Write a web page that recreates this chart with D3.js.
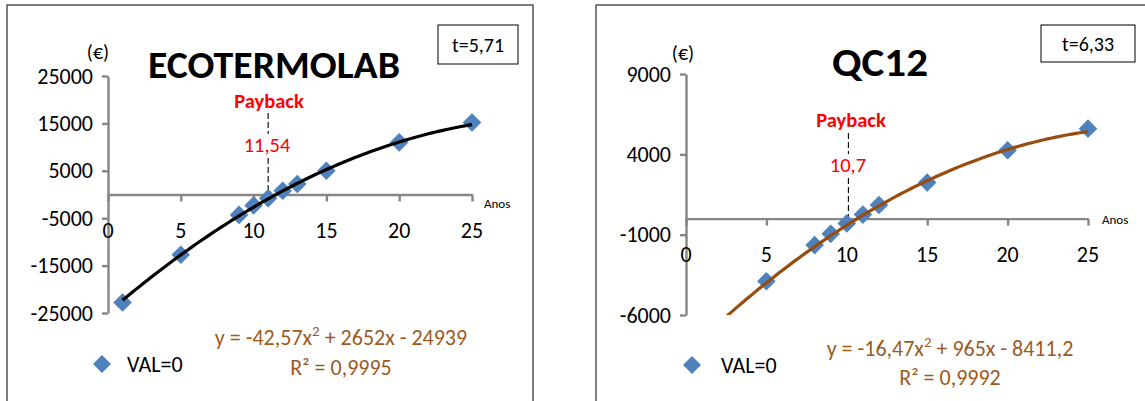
<!DOCTYPE html>
<html><head><meta charset="utf-8">
<script src="https://cdn.jsdelivr.net/npm/d3@7"></script>
<style>
html,body{margin:0;padding:0;background:#fff;}
svg{display:block;font-family:Calibri,Carlito,Lato,"Open Sans",sans-serif;}
</style></head><body>
<svg id="chart" width="1145" height="401"></svg>
<script>
// ---- data ----
const ecoYears  = [1, 5, 9, 10, 11, 12, 13, 15, 20, 25];
const ecoValues = [-22800, -12700, -4300, -2300, -800, 800, 2200, 5000, 11000, 15200];
const qcYears   = [5, 8, 9, 10, 11, 12, 15, 20, 25];
const qcValues  = [-3900, -1650, -950, -300, 250, 850, 2250, 4250, 5600];
const xTickValues = [0, 5, 10, 15, 20, 25];
const ecoYTicks = [-25000, -15000, -5000, 5000, 15000, 25000];
const qcYTicks  = [-6000, -1000, 4000, 9000];
const ecoTrendCoef = [-42.57, 2652, -24939];
const qcTrendCoef  = [-16.47, 965, -8411.2];
const titles = ["ECOTERMOLAB", "QC12"];
const tLabels = ["t=5,71", "t=6,33"];
const paybackValues = ["11,54", "10,7"];
const paybackLineX = [11, 10.1];
const eqLabels = [["y = -42,57x", "2", " + 2652x - 24939"], ["y = -16,47x", "2", " + 965x - 8411,2"]];
const r2Labels = ["R² = 0,9995", "R² = 0,9992"];
const legendLabel = "VAL=0";
const xAxisTitle = "Anos";
const yUnit = "(€)";
const paybackTitle = "Payback";
const trendRange = [1, 25];

const svg = d3.select("#chart");
const markerColor = "#4F81BD";
const axisColor = "#868686";
const eqColor = "#9C5A1E";
const FS = 22;

const diamond = {draw(ctx, size){const r=Math.sqrt(size/2);ctx.moveTo(0,-r);ctx.lineTo(r,0);ctx.lineTo(0,r);ctx.lineTo(-r,0);ctx.closePath();}};
const symPath = d3.symbol().type(diamond).size(2*9.3*9.3);
const legPath = d3.symbol().type(diamond).size(2*9*9);

function panel(i, years, values, yTicks, yDomain, coef, L){
  const g = svg.append("g");
  g.append("rect").attr("x",L.frame[0]).attr("y",L.frame[1]).attr("width",L.frame[2]).attr("height",L.frame[3])
    .attr("fill","none").attr("stroke","#3a3a3a").attr("stroke-width",1.3);
  const x = d3.scaleLinear().domain([0,25]).range(L.xRange);
  const y = d3.scaleLinear().domain(yDomain).range(L.yRange);

  const ya = g.append("g").attr("transform",`translate(${x(0)},0)`)
    .call(d3.axisLeft(y).tickValues(yTicks).tickSize(6).tickSizeOuter(0).tickPadding(9).tickFormat(d=>String(d)));
  ya.select(".domain").attr("stroke",axisColor).attr("stroke-width",2.4);
  ya.selectAll(".tick line").attr("stroke",axisColor).attr("stroke-width",2.4);
  ya.selectAll(".tick text").attr("fill","#000").attr("font-size",FS).attr("font-family","Calibri,Carlito,Lato,sans-serif");

  const xa = g.append("g").attr("transform",`translate(0,${y(0)})`)
    .call(d3.axisBottom(x).tickValues(xTickValues).tickSize(7).tickSizeOuter(0).tickFormat(""));
  xa.select(".domain").attr("stroke",axisColor).attr("stroke-width",2.4);
  xa.selectAll(".tick line").attr("stroke",axisColor).attr("stroke-width",2.4);
  g.selectAll(".xlab").data(xTickValues).join("text").attr("class","xlab")
    .attr("x",d=>x(d)).attr("y",L.xLabelY).attr("dy","0.35em").attr("text-anchor","middle")
    .attr("font-size",FS).text(d=>d);
  g.append("text").attr("x",x(25)+L.anos[0]).attr("y",y(0)+L.anos[1]).attr("font-size",13).text(xAxisTitle);

  g.append("text").attr("x",L.euro[0]).attr("y",L.euro[1]).attr("text-anchor","middle").attr("font-size",20).text(yUnit);

  g.append("text").attr("x",L.title[0]).attr("y",L.title[1]).attr("text-anchor","middle")
    .attr("font-weight","bold").attr("font-size",L.title[2]).attr("textLength",L.title[3]).attr("lengthAdjust","spacingAndGlyphs")
    .text(titles[i]);

  g.append("rect").attr("x",L.tbox[0]).attr("y",L.tbox[1]).attr("width",L.tbox[2]).attr("height",L.tbox[3])
    .attr("fill","#fff").attr("stroke","#000").attr("stroke-width",1);
  g.append("text").attr("x",L.tbox[0]+L.tbox[2]/2).attr("y",L.tbox[1]+L.tbox[3]/2).attr("dy","0.35em")
    .attr("text-anchor","middle").attr("font-size",20).text(tLabels[i]);

  const px = x(paybackLineX[i]);
  g.append("line").attr("x1",px).attr("x2",px).attr("y1",L.dashTop).attr("y2",y(0))
    .attr("stroke","#000").attr("stroke-width",1.1).attr("stroke-dasharray","6,3");
  g.append("rect").attr("x",px-25).attr("y",L.pbVal[1]-11).attr("width",50).attr("height",22).attr("fill","#fff");
  g.append("text").attr("x",L.pbTitle[0]).attr("y",L.pbTitle[1]).attr("dy","0.35em").attr("text-anchor","middle")
    .attr("fill","#FF0000").attr("font-weight","bold").attr("font-size",20.5).text(paybackTitle);
  g.append("text").attr("x",L.pbVal[0]).attr("y",L.pbVal[1]).attr("dy","0.35em").attr("text-anchor","middle")
    .attr("fill","#FF0000").attr("font-size",20.5).text(paybackValues[i]);

  const clipId = "clip"+i;
  svg.append("clipPath").attr("id",clipId).append("rect")
    .attr("x",L.xRange[0]).attr("y",L.yRange[1]).attr("width",L.xRange[1]-L.xRange[0]+10).attr("height",L.yRange[0]-L.yRange[1]);
  const xs = d3.range(trendRange[0], trendRange[1]+0.001, 0.25);
  const poly = t => coef[0]*t*t + coef[1]*t + coef[2];
  const ptsData = years.map((d,k)=>({x:d,y:values[k]}));
  g.append("g").selectAll("path").data(ptsData).join("path")
    .attr("d",symPath).attr("fill",markerColor)
    .attr("transform",d=>`translate(${x(d.x)},${y(d.y)})`);
  g.append("path").attr("clip-path",`url(#${clipId})`)
    .attr("d", d3.line().x(t=>x(t)).y(t=>y(poly(t)))(xs))
    .attr("fill","none").attr("stroke",L.trendColor).attr("stroke-width",3.2);

  g.append("path").attr("d",legPath).attr("fill",markerColor).attr("transform",`translate(${L.legend[0]},${L.legend[1]})`);
  g.append("text").attr("x",L.legend[2]).attr("y",L.legend[1]).attr("dy","0.35em").attr("font-size",FS).text(legendLabel);

  const eq = g.append("text").attr("x",L.eq[0]).attr("y",L.eq[1]).attr("text-anchor","middle")
    .attr("fill",eqColor).attr("font-size",FS);
  eq.append("tspan").text(eqLabels[i][0]);
  eq.append("tspan").attr("baseline-shift","super").attr("font-size",15).text(eqLabels[i][1]);
  eq.append("tspan").text(eqLabels[i][2]);
  g.append("text").attr("x",L.eq[0]).attr("y",L.eq[2]).attr("text-anchor","middle")
    .attr("fill",eqColor).attr("font-size",FS).text(r2Labels[i]);
}

panel(0, ecoYears, ecoValues, ecoYTicks, [-25000,25000], ecoTrendCoef, {
  frame:[7,5,526,420], xRange:[108,472], yRange:[313,76], xLabelY:230, anos:[12,13],
  euro:[98,59], title:[274,78,38,252], tbox:[438,25,80,39], dashTop:113,
  pbTitle:[269,101], pbVal:[267,145], trendColor:"#000",
  legend:[102,364,127], eq:[341,345,375]
});
panel(1, qcYears, qcValues, qcYTicks, [-6000,9000], qcTrendCoef, {
  frame:[596,5,600,420], xRange:[686,1088], yRange:[315,74], xLabelY:254, anos:[14,5],
  euro:[683,60], title:[880,76,41,96], tbox:[1041,25,94,37], dashTop:133,
  pbTitle:[851,120], pbVal:[848,165], trendColor:"#974C10",
  legend:[692,365,721], eq:[950,356,385]
});
</script></body></html>
